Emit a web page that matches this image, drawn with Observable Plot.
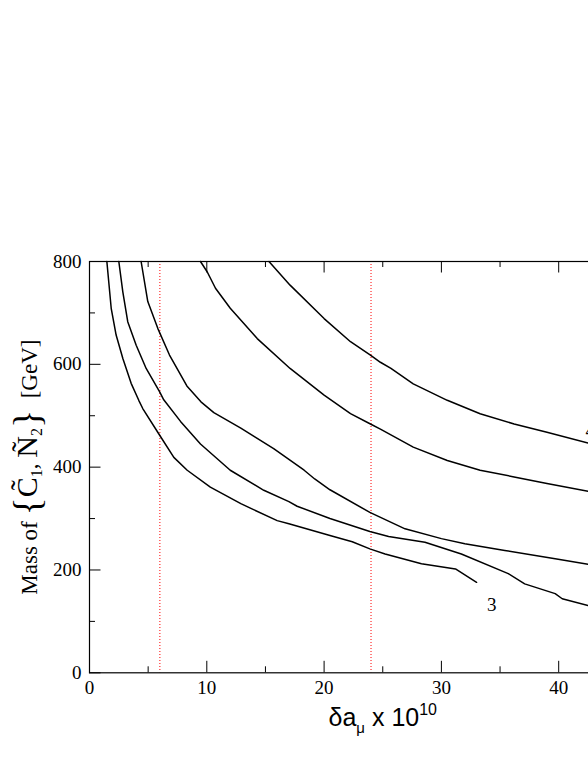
<!DOCTYPE html>
<html>
<head>
<meta charset="utf-8">
<script src="https://cdn.jsdelivr.net/npm/d3@7"></script>
<script src="https://cdn.jsdelivr.net/npm/@observablehq/plot@0.6"></script>
<style>
  html, body { margin: 0; padding: 0; background: white; overflow: hidden; }
  #chart { width: 588px; height: 761px; overflow: hidden; }
  #chart svg { max-width: none !important; width: 720px !important; height: 761px !important; display: block; }
</style>
</head>
<body>
<div id="chart"></div>
<script>
// ---- data ----
const xMajor = [0, 10, 20, 30, 40, 50];
const xTickLabels = [0, 10, 20, 30, 40];
const xMinor = [5, 15, 25, 35, 45];
const yMajor = [0, 200, 400, 600, 800];
const yMinor = [100, 300, 500, 700];
const refLines = [6, 24];

const curveA = [[1.48,800],[1.85,709],[2.27,657],[2.85,611],[3.55,563],[4.2,530],[4.54,514],[5.9,465],[7.19,419],[8.33,394],[10.3,361],[12.9,329],[16.0,296],[17.0,290],[20.5,267],[22.4,255],[23.9,241],[25.2,231],[28.3,212],[31.2,202],[33.0,176]];
const curveB = [[2.5,800],[2.84,741],[3.26,683],[3.98,637],[4.83,592],[5.97,547],[6.33,531],[7.76,489],[9.46,445],[12.0,394],[14.86,355],[17.0,333],[17.7,324],[20.5,300],[23.9,275],[25.5,265],[28.6,254],[31.7,231],[35.7,193],[37.1,173],[39.7,154],[40.3,144],[42.5,131],[43.2,128]];
const curveC = [[4.4,800],[4.97,722],[5.82,670],[6.82,618],[8.3,558],[9.5,527],[10.6,506],[12.9,476],[15.7,436],[18.3,394],[19.2,377],[20.5,356],[23.9,312],[26.9,280],[30.0,261],[32.0,251],[35.4,238],[39.7,222],[42.5,211],[43.2,209]];
const curveD = [[9.46,800],[10.03,780],[10.74,748],[12.0,709],[14.3,650],[17.1,592],[20.0,540],[22.25,504],[23.95,484],[24.8,474],[27.6,439],[30.5,413],[33.3,394],[36.2,381],[39.0,368],[42.5,353],[43.2,350]];
const curveE = [[15.3,800],[17.1,754],[20.0,689],[22.25,644],[23.95,618],[24.8,604],[25.7,592],[27.6,562],[30.5,530],[33.3,504],[36.2,484],[39.0,468],[42.5,447],[43.2,443]];
const curves = [curveA, curveB, curveC, curveD, curveE];

const curveLabels = [
  {x: 34.3, y: 133, text: "3"},
  {x: 42.7, y: 470, text: "4"}
];
const xTitle = "δaμ x 1010";
const yTitle = "Mass of {C̃1, Ñ2}  [GeV]";

// ---- layout ----
const W = 720, H = 761;
const mL = 89, mR = W - 675.5, mT = 261, mB = H - 672.3;
const plotW = W - mL - mR, plotH = H - mT - mB;
const majorLen = 11.5, minorLen = 6;

const serif = "'Liberation Serif', 'Times New Roman', serif";
const sans = "'Liberation Sans', Arial, sans-serif";

const svg = Plot.plot({
  width: W, height: H,
  marginLeft: mL, marginRight: mR, marginTop: mT, marginBottom: mB,
  x: {domain: [0, 50]},
  y: {domain: [0, 800]},
  style: {fontFamily: serif, background: "white", color: "black", maxWidth: "none"},
  marks: [
    Plot.axisX(xTickLabels, {tickSize: 0, tickPadding: 8, fontSize: 19, label: null, fontFamily: serif}),
    Plot.axisY(yMajor, {tickSize: 0, tickPadding: 8, fontSize: 19, label: null, fontFamily: serif}),
    // inward ticks: bottom, top
    Plot.tickX(xMajor, {x: d => d, insetTop: plotH - majorLen, stroke: "black"}),
    Plot.tickX(xMinor, {x: d => d, insetTop: plotH - minorLen, stroke: "black"}),
    Plot.tickX(xMajor, {x: d => d, insetBottom: plotH - majorLen, stroke: "black"}),
    Plot.tickX(xMinor, {x: d => d, insetBottom: plotH - minorLen, stroke: "black"}),
    // inward ticks: left, right
    Plot.tickY(yMajor, {y: d => d, insetRight: plotW - majorLen, stroke: "black"}),
    Plot.tickY(yMinor, {y: d => d, insetRight: plotW - minorLen, stroke: "black"}),
    Plot.tickY(yMajor, {y: d => d, insetLeft: plotW - majorLen, stroke: "black"}),
    Plot.tickY(yMinor, {y: d => d, insetLeft: plotW - minorLen, stroke: "black"}),
    Plot.ruleX(refLines, {x: d => d, stroke: "red", strokeWidth: 1, strokeDasharray: "1,2"}),
    ...curves.map(c => Plot.line(c, {x: d => d[0], y: d => d[1], stroke: "black", strokeWidth: 1.5})),
    Plot.text(curveLabels, {x: "x", y: "y", text: "text", fontSize: 19, fontFamily: serif, fill: "black"}),
    Plot.frame({stroke: "black", strokeWidth: 1.2}),
    Plot.text([xTitle], {frameAnchor: "bottom", text: d => d, dy: 44.7, textAnchor: "middle", lineAnchor: "middle", fontSize: 25, fontFamily: sans, fill: "black"}),
    Plot.text([yTitle], {frameAnchor: "left", text: d => d, dx: -60, rotate: -90, textAnchor: "middle", lineAnchor: "middle", fontSize: 23, fontFamily: serif, fill: "black"})
  ]
});

// rich formatting of axis titles (sub/superscripts)
svg.querySelectorAll("text").forEach(t => {
  if (t.textContent === xTitle) {
    t.innerHTML = 'δa<tspan font-size="15" dy="7">μ</tspan><tspan dy="-7"> x 10</tspan><tspan font-size="16" dy="-11">10</tspan>';
  } else if (t.textContent === yTitle) {
    t.innerHTML = 'Mass of <tspan font-size="38" dy="3">{</tspan><tspan font-size="30" dy="-3">C̃</tspan><tspan font-size="16" dy="5">1</tspan><tspan dy="-5">, </tspan><tspan font-size="30">Ñ</tspan><tspan font-size="16" dy="5">2</tspan><tspan font-size="38" dy="-2">}</tspan><tspan dy="-3">  [GeV]</tspan>';
  }
});
svg.querySelectorAll("text").forEach(t => t.setAttribute("xml:space", "preserve"));

document.getElementById("chart").appendChild(svg);
</script>
</body>
</html>
